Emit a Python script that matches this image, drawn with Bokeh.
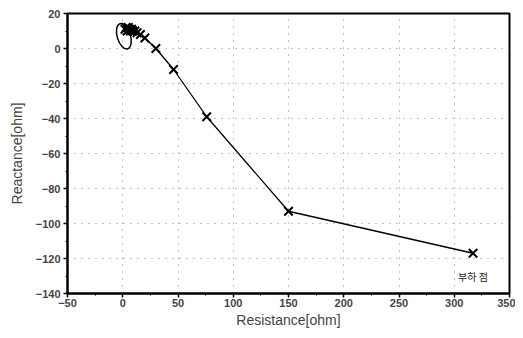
from bokeh.plotting import figure
from bokeh.models import SingleIntervalTicker, Range1d
from bokeh.embed import file_html
from bokeh.resources import INLINE
from bokeh.core.properties import value

# Impedance trajectory (Resistance, Reactance) in ohm
resistance = [2, 3, 4, 5, 6, 7, 8, 9, 11, 13, 16, 20, 30, 46, 76, 150, 317]
reactance = [11, 12, 10, 12, 11, 10, 11, 10, 10, 9, 8, 6, 0, -12, -39, -93, -117]

# Load point label
label_text = "부하 점"
label_x = 317
label_y = -130

# Circled cluster
circle_x = 1
circle_y = 7
circle_w = 12
circle_h = 15

p = figure(width=515, height=330, output_backend="svg", toolbar_location=None,
           x_range=Range1d(-50, 350), y_range=Range1d(-140, 20),
           min_border_left=67, min_border_right=6, min_border_top=13, min_border_bottom=36)

p.line(resistance, reactance, line_color="black", line_width=1.3)
p.scatter(resistance, reactance, marker="x", size=12, line_color="black", line_width=2)
p.ellipse(x=[circle_x], y=[circle_y], width=[circle_w], height=[circle_h], angle=0.3,
          fill_color=None, line_color="black", line_width=1.5)
p.text(x=[label_x], y=[label_y], text=[label_text], text_font=value("Noto Sans CJK KR"),
       text_font_size="10px", text_align="center", text_baseline="middle", text_color="#222")

p.xaxis.ticker = SingleIntervalTicker(interval=50, num_minor_ticks=2)
p.yaxis.ticker = SingleIntervalTicker(interval=20, num_minor_ticks=2)
p.xaxis.axis_label = "Resistance[ohm]"
p.yaxis.axis_label = "Reactance[ohm]"
for ax in (p.xaxis, p.yaxis):
    ax.axis_label_text_font = "Liberation Sans"
    ax.axis_label_text_font_style = "normal"
    ax.axis_label_text_font_size = "14px"
    ax.major_label_text_font = "Liberation Sans"
    ax.major_label_text_font_style = "bold"
    ax.major_label_text_font_size = "11px"
    ax.axis_line_width = 2
    ax.major_tick_out = 4
    ax.major_tick_in = 0
    ax.minor_tick_out = 2
    ax.minor_tick_in = 0
    ax.major_tick_line_width = 1.5
    ax.axis_label_standoff = 2
p.xaxis.major_label_standoff = 1
p.yaxis.major_label_standoff = 3
p.yaxis.axis_label_standoff = 8

p.grid.grid_line_color = "#888888"
p.grid.grid_line_dash = "1 6"
p.grid.grid_line_width = 1
p.outline_line_color = "black"
p.outline_line_width = 2
p.background_fill_color = "white"

open("out.html", "w").write(file_html(p, INLINE))
